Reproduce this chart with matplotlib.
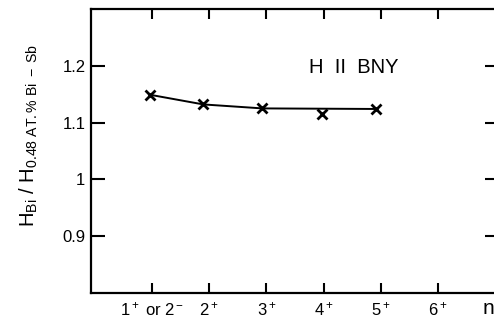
import matplotlib
matplotlib.use('Agg')
import matplotlib.pyplot as plt

# ---------------- DATA ----------------
n_pos = [0.97, 1.90, 2.93, 3.97, 4.91]
ratio = [1.149, 1.132, 1.125, 1.115, 1.124]
line_idx = [0, 1, 2, 4]   # curve drawn through these points, point 4 sits below it

xtick_pos = [1, 2, 3, 4, 5, 6]
xtick_labels = [r'$1^+$ or $2^-$', r'$2^+$', r'$3^+$', r'$4^+$', r'$5^+$', r'$6^+$']
ytick_pos = [0.9, 1.0, 1.1, 1.2]
ytick_labels = ['0.9', '1', '1.1', '1.2']

# ---------------- STYLE ----------------
plt.rcParams['font.family'] = ['Liberation Sans', 'DejaVu Sans']
plt.rcParams['mathtext.fontset'] = 'custom'
plt.rcParams['mathtext.rm'] = 'Liberation Sans'
plt.rcParams['mathtext.it'] = 'Liberation Sans'
plt.rcParams['mathtext.bf'] = 'Liberation Sans:bold'

fig = plt.figure(figsize=(4.94, 3.2), dpi=100)
# axes run past the right edge, the scan is cropped there
ax = fig.add_axes([91/494, 27/320, 408/494, 284/320])

ax.plot([n_pos[i] for i in line_idx], [ratio[i] for i in line_idx],
        color='black', lw=1.4)
ax.plot(n_pos, ratio, ls='none', marker='x', ms=7, mew=2.0, color='black')

ax.set_xlim(-0.06, 7.06)
ax.set_ylim(0.8, 1.3)
ax.set_xticks(xtick_pos)
ax.set_xticklabels(xtick_labels, fontsize=12)
ax.set_yticks(ytick_pos)
ax.set_yticklabels(ytick_labels, fontsize=12)

for s in ax.spines.values():
    s.set_linewidth(1.6)

ax.tick_params(axis='x', direction='in', length=7, width=1.5, top=True, pad=5)
ax.tick_params(axis='y', direction='in', length=10, width=1.5, right=True, pad=4)

ax.text(4.53, 1.197, 'H  II  BNY', fontsize=14.5, ha='center', va='center')

fig.text(29/494, 1 - 135/320,
         r'$\mathrm{H_{Bi}\ /\ H_{0.48\ AT.\%\ Bi\ -\ Sb}}$',
         rotation=90, ha='center', va='center', fontsize=14.5)
fig.text(483/494, 1 - 299/320, 'n', fontsize=15, ha='left', va='top')

fig.savefig('out.png', dpi=100)
